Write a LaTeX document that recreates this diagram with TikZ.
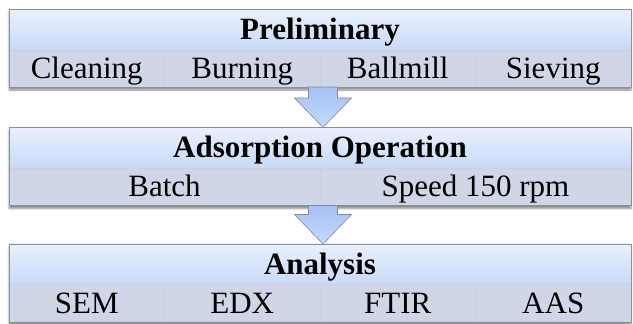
\documentclass[tikz,border=0pt]{standalone}
\usepackage{fontspec}
\setmainfont{Liberation Serif}
\usetikzlibrary{calc,shadows.blur}
\definecolor{titletop}{HTML}{EAF1FD}
\definecolor{titlebot}{HTML}{C8D9F7}
\definecolor{subfill}{HTML}{CED6E7}
\definecolor{segline}{HTML}{C8D0E1}
\definecolor{framecol}{HTML}{8C9099}
\definecolor{arrtop}{HTML}{A6C1F3}
\definecolor{arrbot}{HTML}{C6D9FB}
\definecolor{arredge}{HTML}{7D8CA6}
\begin{document}
\begin{tikzpicture}[x=1pt,y=-1pt,
  every node/.style={inner sep=0pt, outer sep=0pt, font=\fontsize{31}{31}\selectfont, text height=20.5pt, text depth=0pt},
  frame/.style={minimum width=622pt, minimum height=78pt, fill=subfill,
    blur shadow={shadow xshift=0pt, shadow yshift=-3pt, shadow blur steps=6, shadow opacity=45}},
  titleband/.style={minimum width=622pt, minimum height=41pt, top color=titletop, bottom color=titlebot,
    font=\fontsize{31}{31}\selectfont\bfseries},
  seg4/.style={minimum width=155.5pt, minimum height=37pt, fill=subfill, draw=segline, line width=0.3pt},
  seg2/.style={minimum width=311pt, minimum height=37pt, fill=subfill, draw=segline, line width=0.3pt},
  border/.style={draw=framecol, line width=0.8pt},
  downarrow/.style={draw=arredge, line width=0.6pt, top color=arrtop, bottom color=arrbot, line join=miter}
]
\useasboundingbox (0,0) rectangle (633,324);

% ---------- Box 1
\node[frame] (b1) at (320,48) {};
\node[titleband] (t1) at (320,29.5) {Preliminary};
\node[seg4] (s11) at (86.75,68.5) {Cleaning};
\node[seg4] (s12) at (242.25,68.5) {Burning};
\node[seg4] (s13) at (397.75,68.5) {Ballmill};
\node[seg4] (s14) at (553.25,68.5) {Sieving};
\draw[border] (b1.north west) rectangle (b1.south east);

% ---------- Box 2
\node[frame] (b2) at (320,166.5) {};
\node[titleband] (t2) at (320,147.5) {Adsorption Operation};
\node[seg2] (s21) at (164.5,186.5) {Batch};
\node[seg2] (s22) at (475.5,186.5) {Speed 150 rpm};
\draw[border] (b2.north west) rectangle (b2.south east);

% ---------- Box 3
\node[frame] (b3) at (320,283) {};
\node[titleband] (t3) at (320,264) {Analysis};
\node[seg4] (s31) at (86.75,303) {SEM};
\node[seg4] (s32) at (242.25,303) {EDX};
\node[seg4] (s33) at (397.75,303) {FTIR};
\node[seg4] (s34) at (553.25,303) {AAS};
\draw[border] (b3.north west) rectangle (b3.south east);

% ---------- Arrows
\coordinate (a1) at ($(b1.south)+(3,0)$);
\coordinate (p1) at ($(b2.north)+(3,0)$);
\draw[downarrow] ($(a1)+(-14.5,0)$) -- ($(a1)+(14.5,0)$) -- ($(a1)+(14.5,11)$) -- ($(a1)+(28.5,11)$)
  -- (p1) -- ($(a1)+(-28.5,11)$) -- ($(a1)+(-14.5,11)$) -- cycle;
\coordinate (a2) at ($(b2.south)+(3,0)$);
\coordinate (p2) at ($(b3.north)+(3,0)$);
\draw[downarrow] ($(a2)+(-14.5,0)$) -- ($(a2)+(14.5,0)$) -- ($(a2)+(14.5,9)$) -- ($(a2)+(28.5,9)$)
  -- (p2) -- ($(a2)+(-28.5,9)$) -- ($(a2)+(-14.5,9)$) -- cycle;
\end{tikzpicture}
\end{document}
